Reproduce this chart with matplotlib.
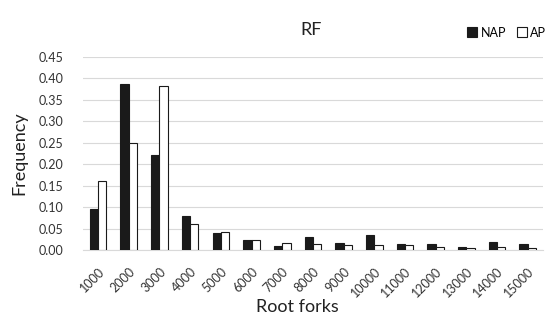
import numpy as np
import matplotlib.pyplot as plt

plt.rcParams['font.family'] = ['Lato', 'DejaVu Sans']

categories = ["1000", "2000", "3000", "4000", "5000", "6000", "7000", "8000",
              "9000", "10000", "11000", "12000", "13000", "14000", "15000"]
nap = [0.095, 0.386, 0.221, 0.079, 0.040, 0.024, 0.010, 0.030,
       0.016, 0.035, 0.014, 0.014, 0.008, 0.019, 0.014]
ap = [0.160, 0.250, 0.381, 0.060, 0.042, 0.023, 0.016, 0.013,
      0.011, 0.012, 0.011, 0.006, 0.004, 0.008, 0.004]

fig = plt.figure(figsize=(5.48, 3.26), dpi=100)
ax = fig.add_axes([0.151, 0.233, 0.840, 0.593])

x = np.arange(len(categories))
w = 0.27
ax.bar(x - w / 2, nap, w, color="#1a1a1a", edgecolor="#1a1a1a", linewidth=0.8, label="NAP", zorder=3)
ax.bar(x + w / 2, ap, w, color="white", edgecolor="#1a1a1a", linewidth=0.8, label="AP", zorder=3)

ax.set_ylim(0, 0.45)
ax.set_yticks(np.arange(0, 0.46, 0.05))
ax.set_yticklabels(["%.2f" % v for v in np.arange(0, 0.46, 0.05)], fontsize=9, color="#333333")
ax.set_xlim(-0.5, len(categories) - 0.5)
ax.set_xticks(x)
ax.set_xticklabels(categories, rotation=45, ha="right", rotation_mode="anchor", fontsize=9, color="#333333")
ax.tick_params(axis="y", length=0, pad=14)
ax.tick_params(axis="x", length=0, pad=11)
ax.grid(axis="y", color="#d9d9d9", linewidth=0.8, zorder=0)
for s in ["top", "right", "left"]:
    ax.spines[s].set_visible(False)
ax.spines["bottom"].set_color("#d9d9d9")

ax.set_xlabel("Root forks", fontsize=13, color="#222222", va="center")
ax.xaxis.set_label_coords(0.467, -0.295)
ax.set_ylabel("Frequency", fontsize=13, color="#222222", va="center")
ax.yaxis.set_label_coords(-0.137, 0.5)
fig.text(0.568, 0.908, "RF", fontsize=13, ha="center", va="center", color="#222222")
fig.legend(loc="center", bbox_to_anchor=(0.925, 0.9), ncol=2, frameon=False, fontsize=9,
           handlelength=0.8, handleheight=0.8, handletextpad=0.3, columnspacing=0.8)

fig.savefig("out.png", dpi=100)
